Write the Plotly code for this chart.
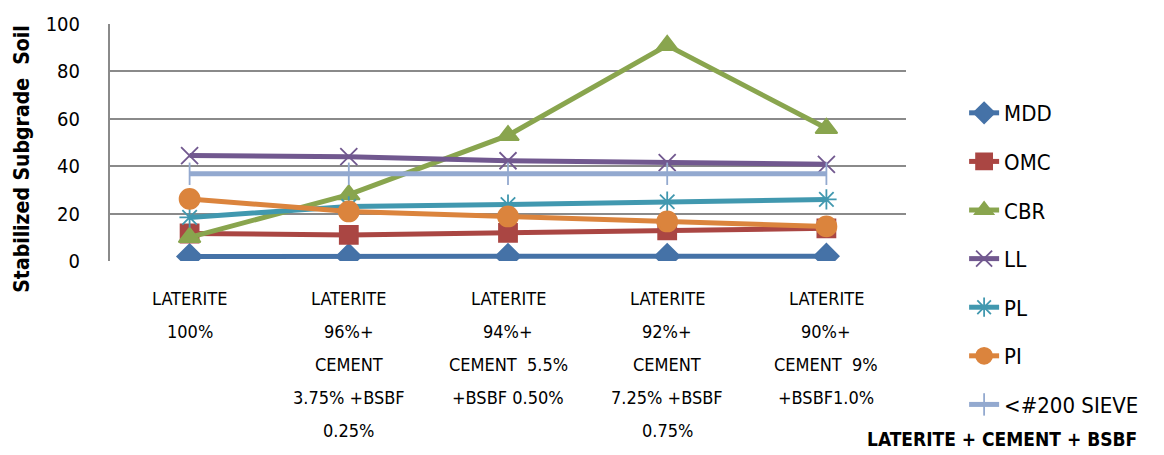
import plotly.graph_objects as go

# Mix designs (x categories), one line per tick label
categories = ["L100", "L96", "L94", "L92", "L90"]
category_lines = [
    ["LATERITE", "100%"],
    ["LATERITE", "96%+", "CEMENT", "3.75% +BSBF", "0.25%"],
    ["LATERITE", "94%+", "CEMENT  5.5%", "+BSBF 0.50%"],
    ["LATERITE", "92%+", "CEMENT", "7.25% +BSBF", "0.75%"],
    ["LATERITE", "90%+", "CEMENT  9%", "+BSBF1.0%"],
]

# Test results per mix
mdd = [1.9, 1.95, 1.98, 2.0, 2.02]
omc = [11.6, 11.0, 11.9, 12.9, 13.8]
cbr = [10.0, 28.0, 53.0, 91.0, 56.0]
ll = [44.5, 44.0, 42.3, 41.5, 40.8]
pl = [18.4, 23.0, 23.8, 25.0, 26.0]
pi = [26.2, 20.9, 18.8, 16.7, 14.6]
sieve200 = [36.8, 36.8, 36.8, 36.8, 36.8]

y_ticks = [0, 20, 40, 60, 80, 100]

FONT = "Liberation Sans Narrow, DejaVu Sans Condensed, Lato, sans-serif"

series = [
    ("MDD", mdd, "#4572A7", "diamond", 19),
    ("OMC", omc, "#AA4643", "square", 18),
    ("CBR", cbr, "#89A54E", "triangle-up", 19),
    ("LL", ll, "#71588F", "x-thin-open", 17),
    ("PL", pl, "#4198AF", "asterisk-open", 17),
    ("PI", pi, "#DB843D", "circle", 20),
    ("<#200 SIEVE", sieve200, "#93A9CF", "line-ns-open", 16),
]

fig = go.Figure()
for i, (name, vals, color, sym, size) in enumerate(series):
    fig.add_trace(go.Scatter(
        x=categories, y=vals, name=name, mode="lines+markers",
        line=dict(color=color, width=5),
        marker=dict(symbol=sym, size=size, color=color,
                    line=dict(color=color, width=1.8)),
        legendgroup=f"g{i}",
    ))

fig.update_layout(
    width=1164, height=455,
    margin=dict(l=110, r=258, t=20, b=194),
    paper_bgcolor="white", plot_bgcolor="white",
    font=dict(family=FONT, size=19, color="black"),
    showlegend=True,
    legend=dict(x=1.073, xanchor="left", y=0.713, yanchor="top",
                font=dict(family=FONT, size=22, color="black"),
                tracegroupgap=17, maxheight=420,
                bgcolor="rgba(0,0,0,0)"),
    xaxis=dict(showticklabels=False, showgrid=False, zeroline=False,
               showline=False, range=[-0.5, 4.5]),
    yaxis=dict(range=[0, 100], tickvals=y_ticks, showgrid=True,
               gridcolor="#8a8a8a", gridwidth=2, zeroline=False,
               showline=True, linecolor="#8a8a8a", linewidth=2,
               ticklabelstandoff=24,
               tickfont=dict(family=FONT, size=20, color="black")),
)

# Category labels, one line at a time
for cat, lines in zip(categories, category_lines):
    for j, txt in enumerate(lines):
        fig.add_annotation(x=cat, xref="x", y=0, yref="paper",
                           yanchor="middle", showarrow=False,
                           yshift=-37 - 33 * j, text=txt,
                           font=dict(family=FONT, size=18, color="black"))

# Axis titles
fig.add_annotation(x=-0.111, xref="paper", y=0.43, yref="paper",
                   text="<b>Stabilized Subgrade  Soil</b>", textangle=-90,
                   showarrow=False, xanchor="center", yanchor="middle",
                   font=dict(family=FONT, size=21, color="black"))
fig.add_annotation(x=1.293, xref="paper", y=0, yref="paper",
                   text="<b>LATERITE + CEMENT + BSBF</b>", showarrow=False,
                   xanchor="right", yanchor="middle", yshift=-178,
                   font=dict(family=FONT, size=19, color="black"))

fig.write_html("out.html")
